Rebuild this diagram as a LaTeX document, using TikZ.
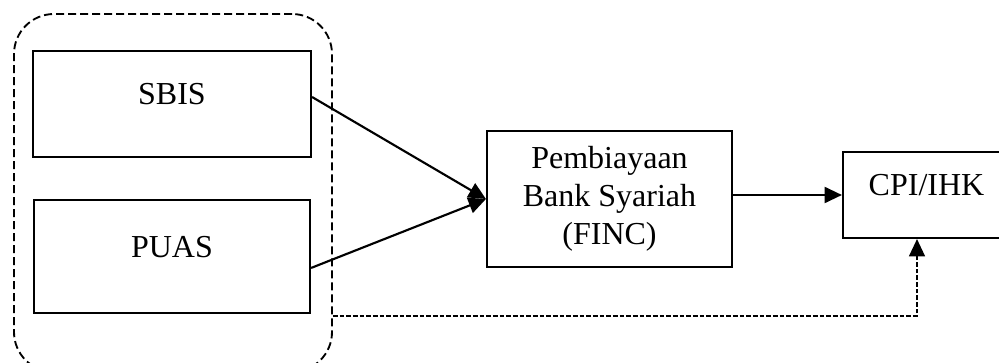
\documentclass[tikz,border=0pt]{standalone}
\usepackage{fontspec}
\setmainfont{Liberation Serif}
\usepackage{tikz}
\usetikzlibrary{arrows.meta,positioning}

\begin{document}
\begin{tikzpicture}[
  x=0.75pt, y=-0.75pt,
  box/.style={rectangle, draw, line width=1.6pt, minimum width=#1,
    font=\fontsize{24}{28.5}\selectfont},
  varbox/.style={box=#1, text depth=15pt},
  group/.style={rectangle, rounded corners=30pt, draw, line width=1.4pt,
    dash pattern=on 6pt off 3pt, minimum width=238.5pt, minimum height=268.5pt},
  link/.style={line width=1.6pt, -{Triangle[length=13pt,width=12pt]}},
  feedback/.style={line width=1.1pt, dash pattern=on 3.5pt off 1.5pt,
    -{Triangle[length=13pt,width=12pt]}}
]
\clip (0,0) rectangle (999,363);
\node[group] (grp) at (173,193) {};
\node[varbox=208.5pt, minimum height=79.5pt] (sbis) at (172,104) {SBIS};
\node[varbox=207pt, minimum height=84.75pt] (puas) at (172,256.5) {PUAS};
\node[box=183.75pt, minimum height=102pt, align=center]
  (finc) at (609.5,199) {Pembiayaan\\Bank Syariah\\(FINC)};
\node[varbox=125.25pt, minimum height=64.5pt] (cpi) at (926.5,195) {CPI/IHK};

\draw[link] ([yshift=5.25pt]sbis.east) -- (finc.west);
\draw[link] ([yshift=-8.6pt]puas.east) -- (finc.west);
\draw[link] (finc.east |- cpi.west) -- (cpi.west);

% dashed path back to CPI
\coordinate (fb) at (917,316);
\draw[feedback] (grp.east |- fb) -| (cpi.south -| fb);
\end{tikzpicture}
\end{document}
